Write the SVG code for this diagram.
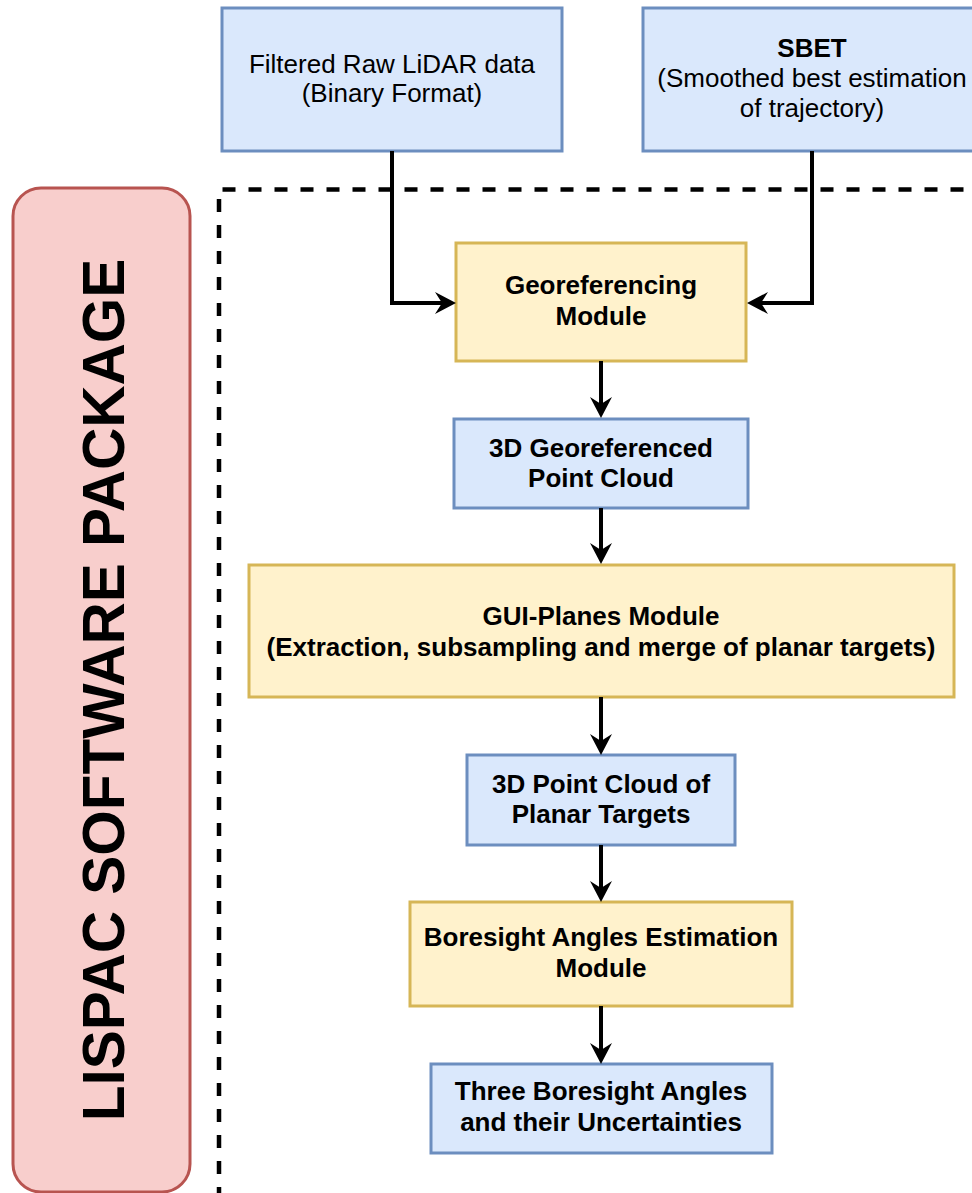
<svg xmlns="http://www.w3.org/2000/svg" width="972" height="1193" viewBox="0 0 972 1193">
  <style>
    .blue { fill: #dae8fc; stroke: #6c8ebf; stroke-width: 3; }
    .yellow { fill: #fff2cc; stroke: #d6b656; stroke-width: 3; }
    .pink { fill: #f8cecc; stroke: #b85450; stroke-width: 3; }
    .label { font-family: "Liberation Sans", Arial, sans-serif; font-size: 26px; fill: #000; text-anchor: middle; }
    .bold { font-weight: bold; }
    .edge { fill: none; stroke: #000; stroke-width: 4; }
    .frame { fill: none; stroke: #000; stroke-width: 4.5; stroke-dasharray: 13 13; }
  </style>
  <defs>
    <marker id="arrow" viewBox="0 0 21 22" refX="7" refY="11" markerWidth="21" markerHeight="22" markerUnits="userSpaceOnUse" orient="auto">
      <path d="M0 0 L21 11 L0 22 L7 11 Z" fill="#000"/>
    </marker>
  </defs>

  <rect width="972" height="1193" fill="#fff"/>

  <!-- software package boundary -->
  <g id="package-frame">
    <path class="frame" d="M219 1200 V189.5 H980"/>
  </g>

  <!-- side banner -->
  <g id="package-label">
    <rect class="pink" x="13" y="188" width="177" height="1004" rx="28" ry="28"/>
    <text class="label bold" style="font-size:58.5px" transform="translate(124 690) rotate(-90)" x="0" y="0">LISPAC SOFTWARE PACKAGE</text>
  </g>

  <!-- inputs -->
  <g id="raw-lidar">
    <rect class="blue" x="222" y="8" width="340" height="143"/>
    <text class="label" x="392" y="73">Filtered Raw LiDAR data</text>
    <text class="label" x="392" y="102">(Binary Format)</text>
  </g>
  <g id="sbet">
    <rect class="blue" x="643" y="8" width="340" height="143"/>
    <text class="label bold" x="812" y="57">SBET</text>
    <text class="label" x="812" y="87">(Smoothed best estimation</text>
    <text class="label" x="812" y="117">of trajectory)</text>
  </g>

  <!-- processing chain -->
  <g id="georeferencing">
    <rect class="yellow" x="456" y="243" width="290" height="118"/>
    <text class="label bold" x="601" y="294">Georeferencing</text>
    <text class="label bold" x="601" y="325">Module</text>
  </g>
  <g id="georef-cloud">
    <rect class="blue" x="454" y="419" width="294" height="89"/>
    <text class="label bold" x="601" y="457">3D Georeferenced</text>
    <text class="label bold" x="601" y="487">Point Cloud</text>
  </g>
  <g id="gui-planes">
    <rect class="yellow" x="249" y="565" width="705" height="132"/>
    <text class="label bold" x="601" y="625">GUI-Planes Module</text>
    <text class="label bold" x="601" y="656">(Extraction, subsampling and merge of planar targets)</text>
  </g>
  <g id="planar-targets">
    <rect class="blue" x="467" y="755" width="268" height="90"/>
    <text class="label bold" x="601" y="793">3D Point Cloud of</text>
    <text class="label bold" x="601" y="823">Planar Targets</text>
  </g>
  <g id="boresight-module">
    <rect class="yellow" x="410" y="902" width="382" height="104"/>
    <text class="label bold" x="601" y="946">Boresight Angles Estimation</text>
    <text class="label bold" x="601" y="977">Module</text>
  </g>
  <g id="boresight-angles">
    <rect class="blue" x="431" y="1064" width="341" height="89"/>
    <text class="label bold" x="601" y="1100">Three Boresight Angles</text>
    <text class="label bold" x="601" y="1131">and their Uncertainties</text>
  </g>

  <!-- connectors -->
  <g id="connectors">
    <path class="edge" marker-end="url(#arrow)" d="M392 151 V303 H442"/>
    <path class="edge" marker-end="url(#arrow)" d="M812 151 V303 H761"/>
    <path class="edge" marker-end="url(#arrow)" d="M601 361 V404"/>
    <path class="edge" marker-end="url(#arrow)" d="M601 508 V550"/>
    <path class="edge" marker-end="url(#arrow)" d="M601 697 V741"/>
    <path class="edge" marker-end="url(#arrow)" d="M601 845 V888"/>
    <path class="edge" marker-end="url(#arrow)" d="M601 1006 V1050"/>
  </g>
</svg>
